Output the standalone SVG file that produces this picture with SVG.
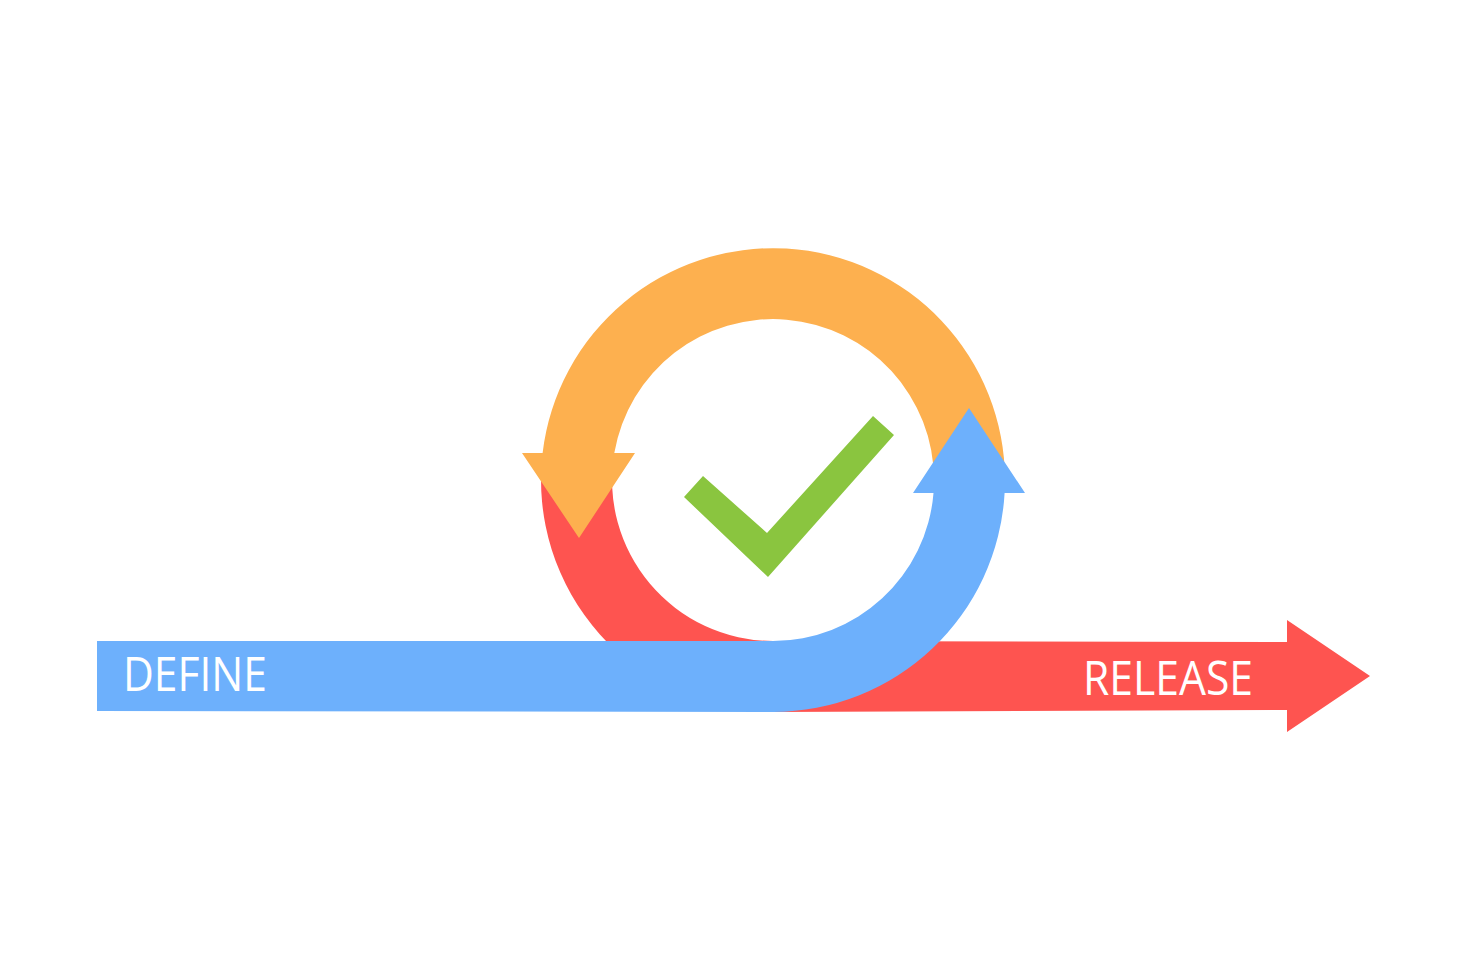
<svg xmlns="http://www.w3.org/2000/svg" width="1467" height="980" viewBox="0 0 1467 980">
<style>
.red{fill:#FE5450}
.orange{fill:#FDB04F}
.blue{fill:#6DB0FC}
.green{fill:#8AC53F}
.lbl{font-family:"Open Sans","Liberation Sans",sans-serif;font-size:48px;fill:#FFFFFF}
</style>
<rect width="1467" height="980" fill="#FFFFFF"/>
<g id="connectors">
<g id="red-arrow">
<path class="red" d="M 542.6,453 A 232 232 0 0 0 773,712 L 1287,710 L 1287,732 L 1370,676 L 1287,620 L 1287,642 L 773,641 A 161 161 0 0 1 614.3,453 Z"/>
</g>
<g id="orange-arrow">
<path class="orange" d="M 1005,480 A 232 232 0 0 0 542.6,453 L 522,453 L 579,538 L 635,453 L 614.3,453 A 161 161 0 0 1 934,480 Z"/>
</g>
<g id="blue-arrow">
<path class="blue" d="M 97,641 L 773,641 A 161 161 0 0 0 933.5,493 L 913,493 L 969,408 L 1025,493 L 1004.6,493 A 232 232 0 0 1 773,712 L 97,711 Z"/>
</g>
</g>
<g id="check">
<polygon class="green" points="684,497 703,476 767,533 873,416 894,435 768,577"/>
</g>
<g id="define-label">
<text class="lbl" x="123" y="691" textLength="144" lengthAdjust="spacingAndGlyphs">DEFINE</text>
</g>
<g id="release-label">
<text class="lbl" x="1083" y="695" textLength="170" lengthAdjust="spacingAndGlyphs">RELEASE</text>
</g>
</svg>
